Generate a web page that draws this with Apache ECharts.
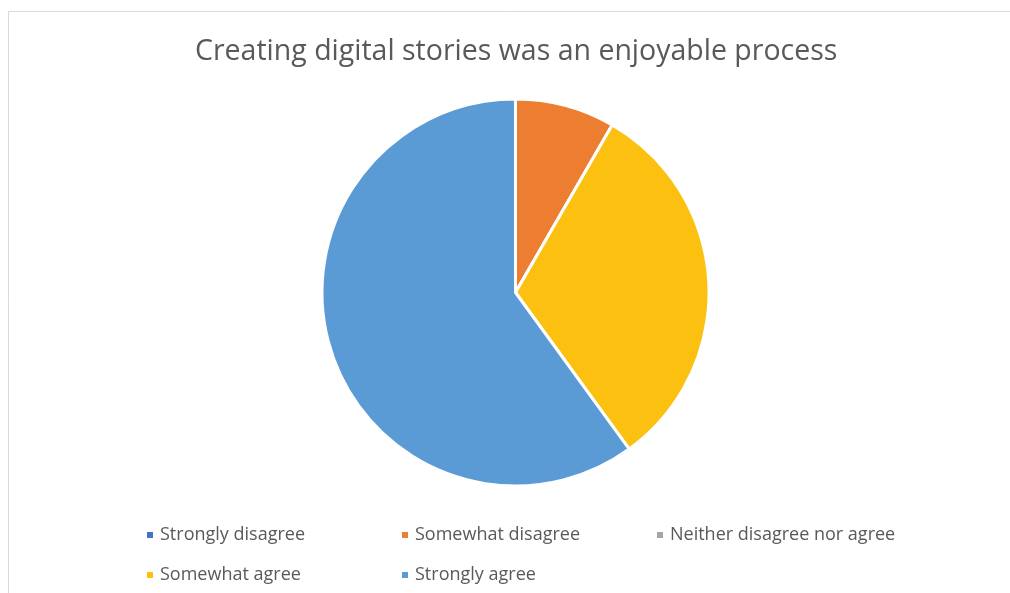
<!DOCTYPE html>
<html><head><meta charset="utf-8">
<script src="https://cdn.jsdelivr.net/npm/echarts@6/dist/echarts.min.js"></script>
<style>html,body{margin:0;padding:0;background:#fff}#c{width:1010px;height:593px}</style>
</head><body><div id="c"></div>
<script>
const titleText = 'Creating digital stories was an enjoyable process';
const categories = ['Strongly disagree','Somewhat disagree','Neither disagree nor agree','Somewhat agree','Strongly agree'];
const values = [0, 5, 0, 19, 36];
const colors = ['#4472C4','#ED7D31','#A5A5A5','#FCC010','#5B9BD5'];
const legendPos = [[140,521],[395,521],[650,521],[140,561],[395,561]];

const chart = echarts.init(document.getElementById('c'));
const legends = categories.map((name,i)=>({
  data:[name], left:legendPos[i][0], top:legendPos[i][1],
  icon:'rect', itemWidth:8, itemHeight:8, itemGap:0,
  textStyle:{color:'#595959', fontSize:18, fontFamily:'Open Sans', padding:[0,0,0,1]},
  selectedMode:false
}));
chart.setOption({
  animation:false,
  graphic:[{type:'rect', shape:{x:8.5,y:11.5,width:1100,height:700}, style:{fill:'none', stroke:'#d9d9d9', lineWidth:1}}],
  title:{text:titleText, left:190, top:32, textStyle:{color:'#595959', fontSize:28.5, fontWeight:'normal', fontFamily:'Open Sans'}},
  legend:legends,
  series:[{
    type:'pie', center:[515.5,292.5], radius:[0,193.5], startAngle:90, clockwise:true,
    label:{show:false}, labelLine:{show:false},
    itemStyle:{borderColor:'#fff', borderWidth:3},
    data:categories.map((n,i)=>({name:n, value:values[i], itemStyle:{color:colors[i]}}))
  }],
  color:colors
});
</script></body></html>
